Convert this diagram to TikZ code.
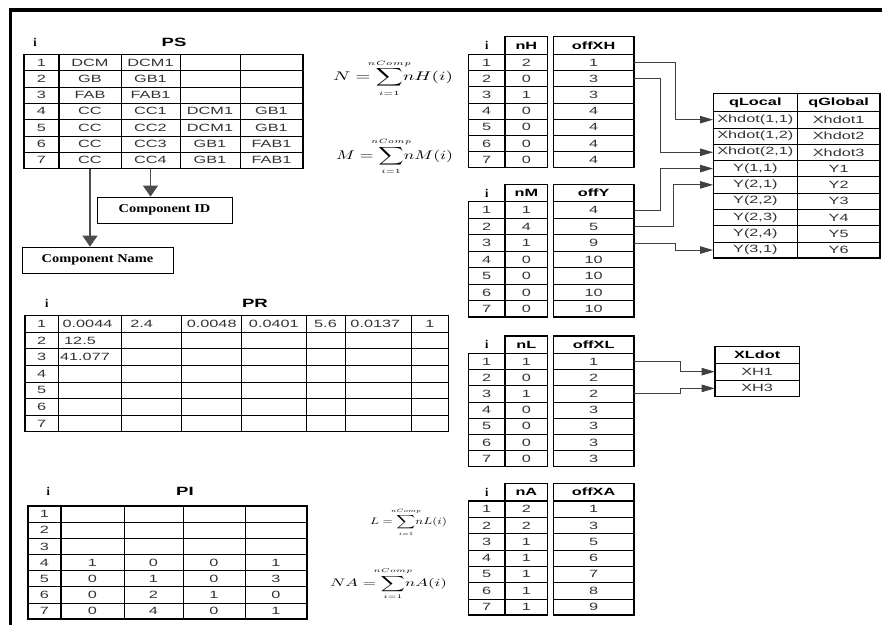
\documentclass[tikz,border=0pt]{standalone}
\usepackage[no-math]{fontspec}
\setmainfont{Liberation Sans}
\newfontfamily\serifbf{Liberation Serif}
\usepackage{graphicx}
\usepackage{mathtools}
\usetikzlibrary{arrows.meta}
\newcommand\T[1]{\scalebox{1.55}[1]{#1}}
\newcommand\Ts[1]{\scalebox{1.2}[1]{#1}}
\tikzset{
  cell/.style={draw=black, line width=0.6pt, inner sep=0pt, font=\fontsize{10.5}{12}\selectfont, text=black!80},
  hcell/.style={cell, font=\fontsize{10.5}{12}\selectfont\bfseries, text=black},
  border/.style={line width=1.5pt},
  lab/.style={inner sep=0pt, font=\fontsize{12}{12}\selectfont\bfseries},
  ilab/.style={inner sep=0pt, font=\fontsize{12}{12}\selectfont\serifbf\bfseries},
  conn/.style={draw=black!75, line width=0.8pt, -{Triangle[length=13pt,width=7.5pt]}},
  vconn/.style={draw=black!70, line width=1.2pt, -{Triangle[length=11pt,width=15pt]}},
  cbox/.style={draw=black, line width=0.8pt, inner sep=0pt, font=\fontsize{12}{12}\selectfont\serifbf\bfseries},
  eq/.style={inner sep=0pt},
}
\newcommand\sumeq[2]{$\displaystyle #1=\sum_{\mathclap{\scriptscriptstyle i=1}}^{\mathclap{\scriptscriptstyle nComp}}\!#2(i)$}
\newcommand\idxtab[9]{%
  \pgfmathsetmacro\tb{#5+7*#6}%
  \pgfmathsetmacro\hm{(#4+#5)/2}%
  \pgfmathsetmacro\hh{#5-#4}%
  \node[ilab] (#1-h) at (486.7,\hm) {i};
  \node[hcell, minimum width=42.7pt, minimum height=\hh pt] (#2-h) at (526.35,\hm) {\T{#7}};
  \node[hcell, minimum width=80.7pt, minimum height=\hh pt] (#3-h) at (593.65,\hm) {\T{#8}};
  \foreach \rr/\nv/\ov in {#9}{%
    \pgfmathsetmacro\yy{#5+(\rr-0.5)*#6}%
    \node[cell, minimum width=36.7pt, minimum height=#6pt] (#1-\rr) at (486.65,\yy) {\T{\rr}};
    \node[cell, minimum width=42.7pt, minimum height=#6pt] (#2-\rr) at (526.35,\yy) {\T{\nv}};
    \node[cell, minimum width=80.7pt, minimum height=#6pt] (#3-\rr) at (593.65,\yy) {\T{\ov}};
  }%
  \draw[border] (468.3,#5) rectangle (547.7,\tb);
  \draw[border] (505,#4) rectangle (547.7,#5);
  \draw[border] (505,#5) -- (505,\tb);
  \draw[border] (553.3,#4) rectangle (634,\tb);
  \draw[border] (553.3,#5) -- (634,#5);
}
\begin{document}
\begin{tikzpicture}[x=1pt,y=-1pt]
\useasboundingbox (0,0) rectangle (882,625);
\fill[white] (0,0) rectangle (882,625);
% frame
\draw[line width=3.5pt] (10.3,625) -- (10.3,10) -- (882,10);

% ---------- PS ----------
\node[ilab] (PSi) at (35,42) {i};
\node[lab] (PSt) at (174,42) {\T{PS}};
\foreach \r/\a/\b/\c/\d in {1/DCM/DCM1/{}/{},2/GB/GB1/{}/{},3/FAB/FAB1/{}/{},4/CC/CC1/DCM1/GB1,5/CC/CC2/DCM1/GB1,6/CC/CC3/GB1/FAB1,7/CC/CC4/GB1/FAB1}{
  \pgfmathsetmacro\yy{54.3+(\r-0.5)*16.3}
  \node[cell, minimum width=35pt, minimum height=16.3pt] (PS-\r-0) at (41.5,\yy) {\T{\r}};
  \node[cell, minimum width=62pt, minimum height=16.3pt] (PS-\r-1) at (90,\yy) {\T{\a}};
  \node[cell, minimum width=59pt, minimum height=16.3pt] (PS-\r-2) at (150.5,\yy) {\T{\b}};
  \node[cell, minimum width=60pt, minimum height=16.3pt] (PS-\r-3) at (210,\yy) {\T{\c}};
  \node[cell, minimum width=63pt, minimum height=16.3pt] (PS-\r-4) at (271.5,\yy) {\T{\d}};
}
\draw[border] (24,54.3) rectangle (303,168.4);
\draw[border] (59,54.3) -- (59,168.4);

\node[cbox, minimum width=135pt, minimum height=26pt] (compid) at (164.5,210) {\Ts{Component ID}};
\node[cbox, minimum width=151pt, minimum height=26pt] (compname) at (97.5,260) {\Ts{Component Name}};
\draw[vconn] (PS-7-1.south) -- (PS-7-1.south |- compname.north);
\draw[vconn] (PS-7-2.south) -- (PS-7-2.south |- compid.north);

% ---------- PR ----------
\node[ilab] (PRi) at (46.7,303.3) {i};
\node[lab] (PRt) at (255,303.3) {\T{PR}};
\foreach \r/\a/\b/\c/\d/\e/\f/\g in {1/{\T{0.0044}\hspace*{5pt}}/{\T{2.4}\hspace*{20pt}}/{\T{0.0048}}/{\T{0.0401}}/{\T{5.6}}/{\T{0.0137}\hspace*{6pt}}/{\T{1}},2/{\T{12.5}\hspace*{20pt}}/{}/{}/{}/{}/{}/{},3/{\T{41.077}\hspace*{10pt}}/{}/{}/{}/{}/{}/{},4/{}/{}/{}/{}/{}/{}/{},5/{}/{}/{}/{}/{}/{}/{},6/{}/{}/{}/{}/{}/{}/{},7/{}/{}/{}/{}/{}/{}/{}}{
  \pgfmathsetmacro\yy{315.5+(\r-0.5)*16.6}
  \node[cell, minimum width=33.3pt, minimum height=16.6pt] (PR-\r-0) at (41.65,\yy) {\T{\r}};
  \node[cell, minimum width=63.4pt, minimum height=16.6pt] (PR-\r-1) at (90,\yy) {\a};
  \node[cell, minimum width=60pt, minimum height=16.6pt] (PR-\r-2) at (151.7,\yy) {\b};
  \node[cell, minimum width=60pt, minimum height=16.6pt] (PR-\r-3) at (211.7,\yy) {\c};
  \node[cell, minimum width=64.3pt, minimum height=16.6pt] (PR-\r-4) at (273.85,\yy) {\d};
  \node[cell, minimum width=39pt, minimum height=16.6pt] (PR-\r-5) at (325.5,\yy) {\e};
  \node[cell, minimum width=66.7pt, minimum height=16.6pt] (PR-\r-6) at (378.35,\yy) {\f};
  \node[cell, minimum width=36.6pt, minimum height=16.6pt] (PR-\r-7) at (430,\yy) {\g};
}
\draw[border] (25,315.5) rectangle (448.3,431.7);
\draw[border] (58.3,315.5) -- (58.3,431.7);

% ---------- PI ----------
\node[ilab] (PIi) at (48.3,491.7) {i};
\node[lab] (PIt) at (185,491.7) {\T{PI}};
\foreach \r/\a/\b/\c/\d in {1/{}/{}/{}/{},2/{}/{}/{}/{},3/{}/{}/{}/{},4/1/0/0/1,5/0/1/0/3,6/0/2/1/0,7/0/4/0/1}{
  \pgfmathsetmacro\yy{506+(\r-0.5)*16.15}
  \node[cell, minimum width=33pt, minimum height=16.15pt] (PI-\r-0) at (44.5,\yy) {\T{\r}};
  \node[cell, minimum width=63pt, minimum height=16.15pt] (PI-\r-1) at (92.5,\yy) {\T{\a}};
  \node[cell, minimum width=59pt, minimum height=16.15pt] (PI-\r-2) at (153.5,\yy) {\T{\b}};
  \node[cell, minimum width=62pt, minimum height=16.15pt] (PI-\r-3) at (214,\yy) {\T{\c}};
  \node[cell, minimum width=62pt, minimum height=16.15pt] (PI-\r-4) at (276,\yy) {\T{\d}};
}
\draw[border] (28,506) rectangle (307,619);
\draw[border] (61,506) -- (61,619);

% ---------- equations ----------
\node[eq] (eqN) at (393,78) {\resizebox*{120pt}{37pt}{\sumeq{N}{nH}}};
\node[eq] (eqM) at (394.5,156.7) {\resizebox*{117pt}{37pt}{\sumeq{M}{nM}}};
\node[eq] (eqL) at (408.5,522.5) {\resizebox*{77pt}{28pt}{\sumeq{L}{nL}}};
\node[eq] (eqNA) at (388.5,584) {\resizebox*{117pt}{32pt}{\sumeq{NA}{nA}}};

% ---------- index tables ----------
\idxtab{iH}{nH}{offXH}{36.7}{54.3}{16.2}{nH}{offXH}{1/2/1,2/0/3,3/1/3,4/0/4,5/0/4,6/0/4,7/0/4}
\idxtab{iM}{nM}{offY}{184.3}{201.7}{16.5}{nM}{offY}{1/1/4,2/4/5,3/1/9,4/0/10,5/0/10,6/0/10,7/0/10}
\idxtab{iL}{nL}{offXL}{336}{353.3}{16.2}{nL}{offXL}{1/1/1,2/0/2,3/1/2,4/0/3,5/0/3,6/0/3,7/0/3}
\idxtab{iA}{nA}{offXA}{483.3}{501}{16.3}{nA}{offXA}{1/2/1,2/2/3,3/1/5,4/1/6,5/1/7,6/1/8,7/1/9}

% ---------- qLocal / qGlobal ----------
\node[hcell, minimum width=84pt, minimum height=18.2pt] (qLh) at (755.3,102.4) {\T{qLocal}};
\node[hcell, minimum width=82.7pt, minimum height=18.2pt] (qGh) at (838.65,102.4) {\T{qGlobal}};
\foreach \r/\a/\b in {1/Xhdot(1{,}1)/Xhdot1,2/Xhdot(1{,}2)/Xhdot2,3/Xhdot(2{,}1)/Xhdot3,4/Y(1{,}1)/Y1,5/Y(2{,}1)/Y2,6/Y(2{,}2)/Y3,7/Y(2{,}3)/Y4,8/Y(2{,}4)/Y5,9/Y(3{,}1)/Y6}{
  \pgfmathsetmacro\yy{111.5+(\r-0.5)*16.3}
  \node[cell, minimum width=84pt, minimum height=16.3pt] (qL-\r) at (755.3,\yy) {\T{\a}};
  \node[cell, minimum width=82.7pt, minimum height=16.3pt] (qG-\r) at (838.65,\yy) {\T{\b}};
}
\draw[border] (713.3,93.3) rectangle (880,258.2);
\draw[border] (797.3,93.3) -- (797.3,258.2);
\draw[border] (713.3,111.5) -- (880,111.5);

% ---------- XLdot ----------
\node[hcell, minimum width=84.3pt, minimum height=16.6pt] (XLh) at (757.15,355) {\T{XLdot}};
\node[cell, minimum width=84.3pt, minimum height=16.7pt] (XL-1) at (757.15,371.65) {\T{XH1}};
\node[cell, minimum width=84.3pt, minimum height=16.7pt] (XL-2) at (757.15,388.35) {\T{XH3}};
\draw[border] (715,346.7) rectangle (799.3,396.7);
\draw[border] (715,363.3) -- (799.3,363.3);

% ---------- connectors ----------
\draw[conn] (offXH-1.east) -- ++(41,0) |- (qL-1.west);
\draw[conn] (offXH-2.east) -- ++(26,0) |- (qL-3.west);
\draw[conn] (offY-1.east) -- ++(26,0) |- (qL-4.west);
\draw[conn] (offY-2.east) -- ++(39.3,0) |- (qL-5.west);
\draw[conn] (offY-3.east) -- ++(41,0) |- (qL-9.west);
\draw[conn] (offXL-1.east) -- ++(46,0) |- (XL-1.west);
\draw[conn] (offXL-3.east) -- ++(46,0) |- (XL-2.west);
\end{tikzpicture}
\end{document}
